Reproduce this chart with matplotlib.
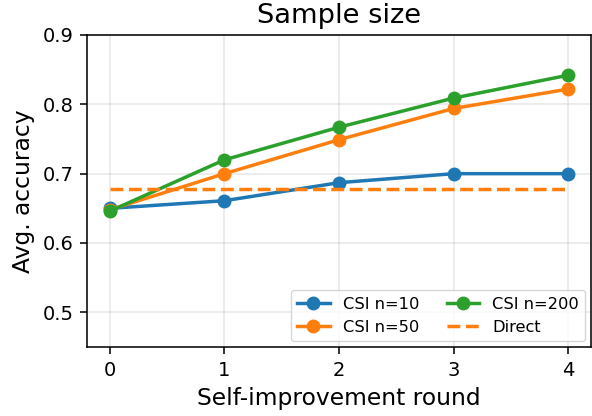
import matplotlib
matplotlib.use("Agg")
import matplotlib.pyplot as plt

rounds = [0, 1, 2, 3, 4]
csi_10 = [0.650, 0.661, 0.687, 0.700, 0.700]
csi_50 = [0.648, 0.700, 0.749, 0.794, 0.822]
csi_200 = [0.646, 0.720, 0.767, 0.809, 0.842]
direct = 0.678

s = 1.4
plt.rcParams['axes.linewidth'] = 0.8 * s
plt.rcParams['xtick.major.size'] = 3.5 * s
plt.rcParams['ytick.major.size'] = 3.5 * s
plt.rcParams['xtick.major.width'] = 0.8 * s
plt.rcParams['ytick.major.width'] = 0.8 * s

fig = plt.figure(figsize=(5.92, 4.16), dpi=100)
ax = fig.add_axes([87/592, 1-347/416, (591-87)/592, (347-35)/416])
ax.plot(rounds, csi_10, marker='o', lw=2.5, ms=9, color='#1f77b4', label='CSI n=10')
ax.plot(rounds, csi_50, marker='o', lw=2.5, ms=9, color='#ff7f0e', label='CSI n=50')
ax.plot(rounds, csi_200, marker='o', lw=2.5, ms=9, color='#2ca02c', label='CSI n=200')
ax.plot([rounds[0], rounds[-1]], [direct, direct], ls='--', lw=2.5, color='#ff7f0e', label='Direct')
ax.set_xlim(-0.2, 4.2)
ax.set_ylim(0.45, 0.9)
ax.set_xticks(rounds)
ax.set_yticks([0.5, 0.6, 0.7, 0.8, 0.9])
ax.tick_params(labelsize=14, pad=3.5 * s)
ax.grid(True, alpha=0.3, lw=0.8 * s)
ax.set_title('Sample size', fontsize=19.6, pad=6 * s)
ax.set_xlabel('Self-improvement round', fontsize=16.8, labelpad=4 * s)
ax.set_ylabel('Avg. accuracy', fontsize=16.8, labelpad=4 * s)
ax.legend(ncol=2, loc='lower right', fontsize=11.7, borderaxespad=0.35,
          columnspacing=1.7)
fig.savefig('out.png', dpi=100)
